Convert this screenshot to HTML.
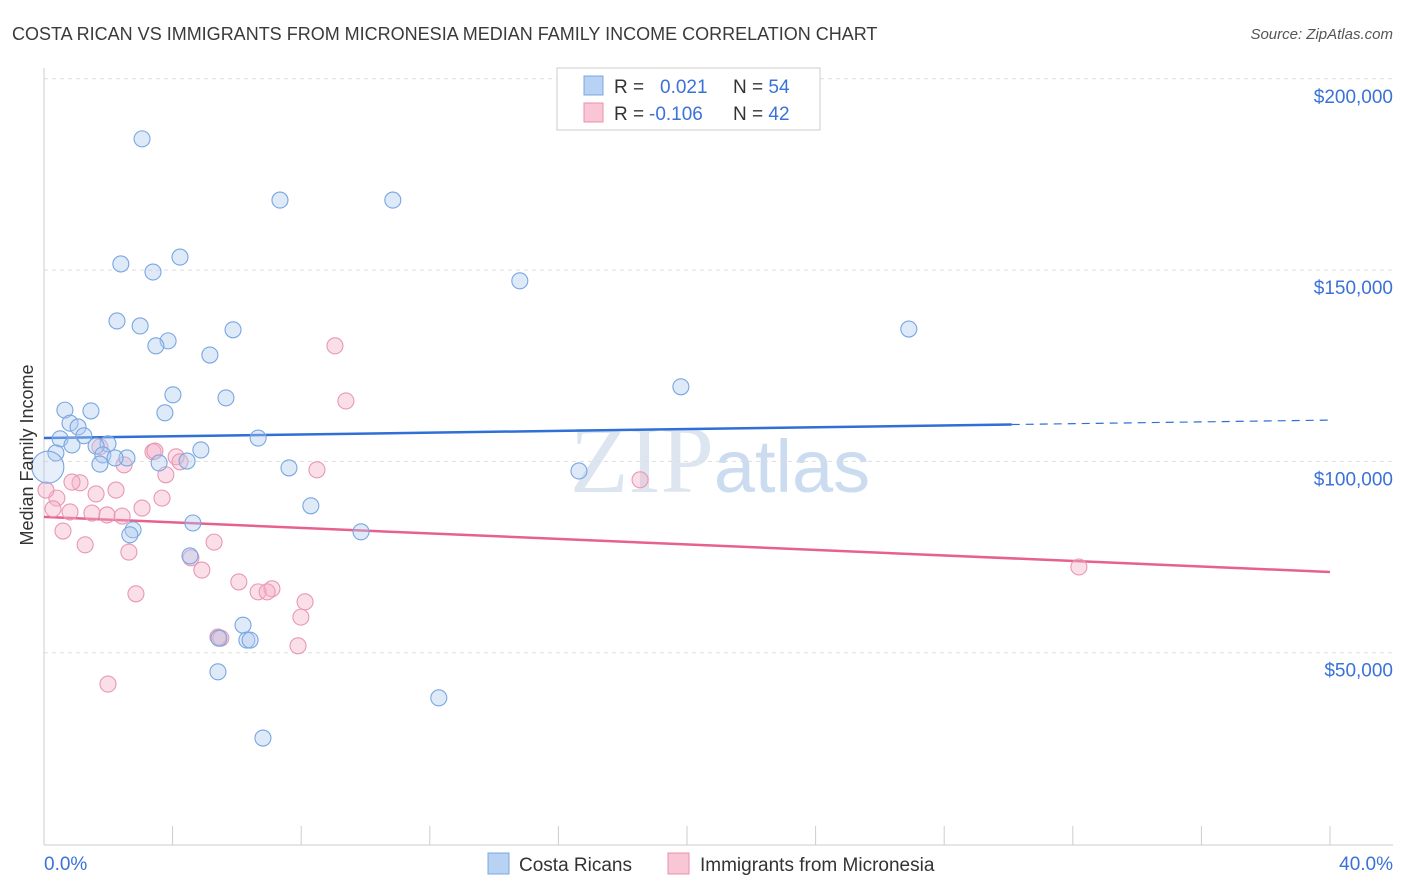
<!DOCTYPE html>
<html><head><meta charset="utf-8"><style>
body{margin:0;background:#fff;font-family:"Liberation Sans",sans-serif;}
svg{display:block}
</style></head><body>
<svg id="chart" width="1406" height="892" xmlns="http://www.w3.org/2000/svg">
<text x="12" y="40" font-size="18" fill="#3a3a3a">COSTA RICAN VS IMMIGRANTS FROM MICRONESIA MEDIAN FAMILY INCOME CORRELATION CHART</text>
<text x="1393" y="39" font-size="15" fill="#555" text-anchor="end" font-style="italic">Source: ZipAtlas.com</text>
<text x="720" y="492" font-size="96" fill="#dde6f0" text-anchor="middle" font-family="Liberation Serif,serif">ZIP<tspan font-family="Liberation Sans,sans-serif" font-size="74" fill="#cbdcf1">atlas</tspan></text>
<g id="grid"></g><g id="axes"></g><g id="trends"></g><g id="points"></g>
<text transform="translate(33,455) rotate(-90)" font-size="18" fill="#333" text-anchor="middle">Median Family Income</text>
<g>
<rect x="557" y="68" width="263" height="62" fill="#fff" stroke="#ccc"/>
<rect x="584" y="76" width="19" height="19" fill="#b8d2f4" stroke="#7aa8e0"/>
<rect x="584" y="103" width="19" height="19" fill="#f8c6d5" stroke="#e890ab"/>
<text x="614" y="93" font-size="19" fill="#333">R = <tspan fill="#3a72d8" x="660">0.021</tspan><tspan fill="#333" x="733">N = </tspan><tspan fill="#3a72d8">54</tspan></text>
<text x="614" y="120" font-size="19" fill="#333">R = <tspan fill="#3a72d8" x="649">-0.106</tspan><tspan fill="#333" x="733">N = </tspan><tspan fill="#3a72d8">42</tspan></text>
</g>
<g>
<rect x="488" y="853" width="21" height="21" fill="#b8d2f4" stroke="#7aa8e0"/>
<text x="519" y="871" font-size="19" fill="#333">Costa Ricans</text>
<rect x="668" y="853" width="21" height="21" fill="#f8c6d5" stroke="#e890ab"/>
<text x="700" y="871" font-size="19" fill="#333">Immigrants from Micronesia</text>
</g>
</svg>
<script>
const yTicks=[50000,100000,150000,200000];
const yTickLabels=["$50,000","$100,000","$150,000","$200,000"];
const xLabels=["0.0%","40.0%"];
const blueX=[3.05,7.34,10.85,4.23,2.39,3.39,14.8,2.27,2.99,5.88,26.9,3.86,3.48,5.16,19.81,4.01,5.66,3.76,0.65,1.46,0.81,1.06,1.24,0.50,6.66,1.99,1.62,0.87,4.88,0.37,1.83,2.58,2.21,3.58,4.45,1.74,7.62,16.64,8.30,4.63,9.86,2.77,2.67,4.54,6.19,5.44,6.31,6.41,5.41,12.28,6.81,0.12];
const blueY=[184.3,168.3,168.3,153.4,151.6,149.5,147.2,136.7,135.4,134.4,134.6,131.5,130.2,127.8,119.5,117.4,116.6,112.7,113.4,113.2,110.0,109.0,106.7,105.9,106.1,104.6,104.0,104.3,103.0,102.2,101.7,100.9,100.9,99.6,100.1,99.3,98.3,97.5,88.4,83.9,81.6,82.1,80.8,75.3,57.2,53.8,53.3,53.3,45.0,38.2,27.7,98.5];
const pinkX=[9.05,9.39,3.39,4.11,4.23,2.49,8.49,3.79,18.54,1.12,0.87,0.40,1.62,2.24,3.67,3.05,0.28,0.81,1.49,1.96,2.43,0.59,1.28,5.29,2.64,4.57,4.91,6.06,7.09,6.66,6.94,2.86,8.12,7.99,5.41,5.50,7.90,1.99,32.19,0.06,1.74,3.45];
const pinkY=[130.2,115.8,102.5,101.2,99.9,99.1,97.8,96.5,95.2,94.4,94.6,90.4,91.5,92.5,90.4,87.8,87.6,86.8,86.5,86.0,85.7,81.8,78.2,78.9,76.3,74.8,71.6,68.5,66.7,65.9,65.9,65.4,63.3,59.3,54.1,53.8,51.8,41.8,72.4,92.5,103.8,102.7];
const blueTrend=[106.1,110.8];
const pinkTrend=[85.5,71.1];
const NS="http://www.w3.org/2000/svg";
const X0=44,X40=1330,Y0=844,PX50K=191.3;
const sx=p=>X0+(X40-X0)*p/40;
const sy=k=>Y0-k*PX50K/50;
function mk(t,a,parent){const e=document.createElementNS(NS,t);for(const k in a)e.setAttribute(k,a[k]);parent.appendChild(e);return e;}
const grid=document.getElementById('grid'),axes=document.getElementById('axes'),tr=document.getElementById('trends'),pts=document.getElementById('points');
yTicks.forEach((v,i)=>{
  const y=sy(v/1000);
  const l=mk('line',{x1:44,x2:1393,y1:y,y2:y,stroke:'#ddd','stroke-dasharray':'4,4'},grid);
  
  
  const t=mk('text',{x:1393,y:y+24,'font-size':19,fill:'#3a72d8','text-anchor':'end'},axes);
  t.textContent=yTickLabels[i];
  
  
});
const ax=mk('line',{x1:44,x2:44,y1:68,y2:845,stroke:'#ccc'},axes);


const bx=mk('line',{x1:44,x2:1393,y1:845,y2:845,stroke:'#ccc'},axes);


for(let p=4;p<=40;p+=4){
  const tk=mk('line',{x1:sx(p),x2:sx(p),y1:826,y2:845,stroke:'#ccc'},axes);
  
  
}
[[0,'start',44],[40,'end',1393]].forEach((d,i)=>{
  const t=mk('text',{x:d[2],y:870,'font-size':19,fill:'#3a72d8','text-anchor':d[1]},axes);
  t.textContent=xLabels[i];
  
  
});
const bsplit=30.1,bmid=blueTrend[0]+(blueTrend[1]-blueTrend[0])*bsplit/40;
const b1=mk('line',{x1:sx(0),y1:sy(blueTrend[0]),x2:sx(bsplit),y2:sy(bmid),stroke:'#2f6fd6','stroke-width':2.5},tr);


const b2=mk('line',{x1:sx(bsplit),y1:sy(bmid),x2:sx(40),y2:sy(blueTrend[1]),stroke:'#2f6fd6','stroke-width':1.2,'stroke-dasharray':'8,6'},tr);


const p1=mk('line',{x1:sx(0),y1:sy(pinkTrend[0]),x2:sx(40),y2:sy(pinkTrend[1]),stroke:'#e8608e','stroke-width':2.5},tr);


function dots(xs,ys,fill,stroke,name){
  xs.forEach((x,i)=>{
    const big=(name==='costa-rican-point'&&i===xs.length-1);
    const c=mk('circle',{cx:sx(x),cy:sy(ys[i]),r:big?16:8,fill:fill,'fill-opacity':big?0.3:0.4,stroke:stroke,'stroke-width':1.1},pts);
    
    
  });
}
dots(pinkX,pinkY,'#f5b0c6','#e898b2','micronesia-point');
dots(blueX,blueY,'#aecbf0','#78a6e2','costa-rican-point');
</script>
</body></html>
